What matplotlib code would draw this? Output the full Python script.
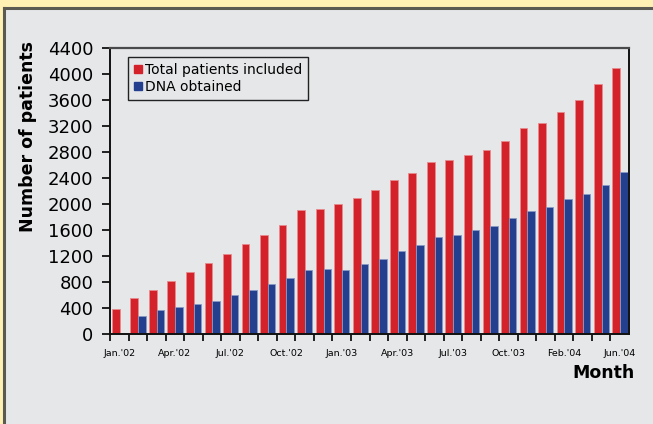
import numpy as np
import matplotlib
matplotlib.use("Agg")
import matplotlib.pyplot as plt
from matplotlib.lines import Line2D
from matplotlib.patches import Rectangle

# monthly cumulative counts
total_patients = [375, 545, 667, 811, 949, 1088, 1231, 1378, 1523, 1677,
                  1898, 1913, 1995, 2083, 2211, 2365, 2468, 2637, 2672, 2754,
                  2822, 2960, 3169, 3242, 3411, 3595, 3842, 4083]
dna_obtained = [0, 272, 365, 411, 457, 503, 590, 672, 765, 852,
                980, 1000, 980, 1072, 1154, 1268, 1360, 1483, 1518, 1595,
                1662, 1780, 1892, 1954, 2072, 2149, 2283, 2488]
label_pos = [0, 3, 6, 9, 12, 15, 18, 21, 24, 27]
label_txt = ["Jan.'02", "Apr.'02", "Jul.'02", "Oct.'02", "Jan.'03",
             "Apr.'03", "Jul.'03", "Oct.'03", "Feb.'04", "Jun.'04"]
y_ticks = list(range(0, 4401, 400))

red = "#d3222a"
blue = "#233f8e"
panel = "#e6e7e9"

plt.rcParams['font.family'] = ['DejaVu Sans']

fig = plt.figure(figsize=(6.53, 4.24), dpi=100)
fig.patch.set_facecolor("#fff0b4")
# grey panel with dark border on top and left
W, H = 653, 424
fig.patches.append(Rectangle((4 / W, 0), 1, 1 - 8 / H, transform=fig.transFigure,
                             facecolor=panel, edgecolor="none", zorder=-10))
fig.lines.append(Line2D([4 / W, 4 / W], [0, 1 - 8 / H], transform=fig.transFigure,
                        color="#5a5a52", lw=2.2, zorder=-9))
fig.lines.append(Line2D([4 / W, 1], [1 - 8 / H, 1 - 8 / H], transform=fig.transFigure,
                        color="#5a5a52", lw=2.2, zorder=-9))

ax = fig.add_axes([110 / W, 90.3 / H, 519 / W, 286 / H])
ax.set_zorder(1)
ax.set_facecolor(panel)

x = np.arange(len(total_patients))
ax.bar(x + 0.1, total_patients, width=0.42, align='edge', color=red,
       edgecolor="#e88a8e", linewidth=0.6)
ax.bar(x + 0.52, dna_obtained, width=0.40, align='edge', color=blue,
       edgecolor="#8a9ac4", linewidth=0.6)

ax.set_xlim(0, len(total_patients))
ax.set_ylim(0, 4400)

ax.set_yticks(y_ticks)
ax.tick_params(axis='y', direction='out', length=6, width=1.2, labelsize=13,
               pad=6)
ax.set_xticks(x, minor=True)
ax.set_xticks(np.array(label_pos) + 0.5)
ax.set_xticklabels(label_txt, fontsize=6.8)
ax.tick_params(axis='x', which='major', length=0, pad=11)
ax.tick_params(axis='x', which='minor', direction='out', length=5, width=1.2)

for s in ['left', 'bottom', 'right']:
    ax.spines[s].set_color('#111111')
    ax.spines[s].set_linewidth(1.4)
ax.spines['top'].set_color('#4a4a4a')
ax.spines['top'].set_linewidth(1.6)

fig.text(28 / W, 1 - 137 / H, "Number of patients", fontsize=12.5,
         fontweight='heavy', rotation=90, ha='center', va='center')
fig.text(635 / W, 1 - 373 / H, "Month", fontsize=12.5, fontweight='heavy',
         ha='right', va='center')

handles = [Line2D([], [], marker='s', ls='none', color=red, markersize=6),
           Line2D([], [], marker='s', ls='none', color=blue, markersize=6)]
leg = ax.legend(handles, ["Total patients included", "DNA obtained"],
                loc='upper left', bbox_to_anchor=(0.035, 0.967), borderaxespad=0,
                fontsize=10, frameon=True, fancybox=False, handlelength=0.6,
                handletextpad=0.2, labelspacing=0.25, borderpad=0.4,
                facecolor=panel, edgecolor='#222222', framealpha=1)
leg.get_frame().set_linewidth(1.0)

fig.savefig("out.png", dpi=100, facecolor=fig.get_facecolor())
